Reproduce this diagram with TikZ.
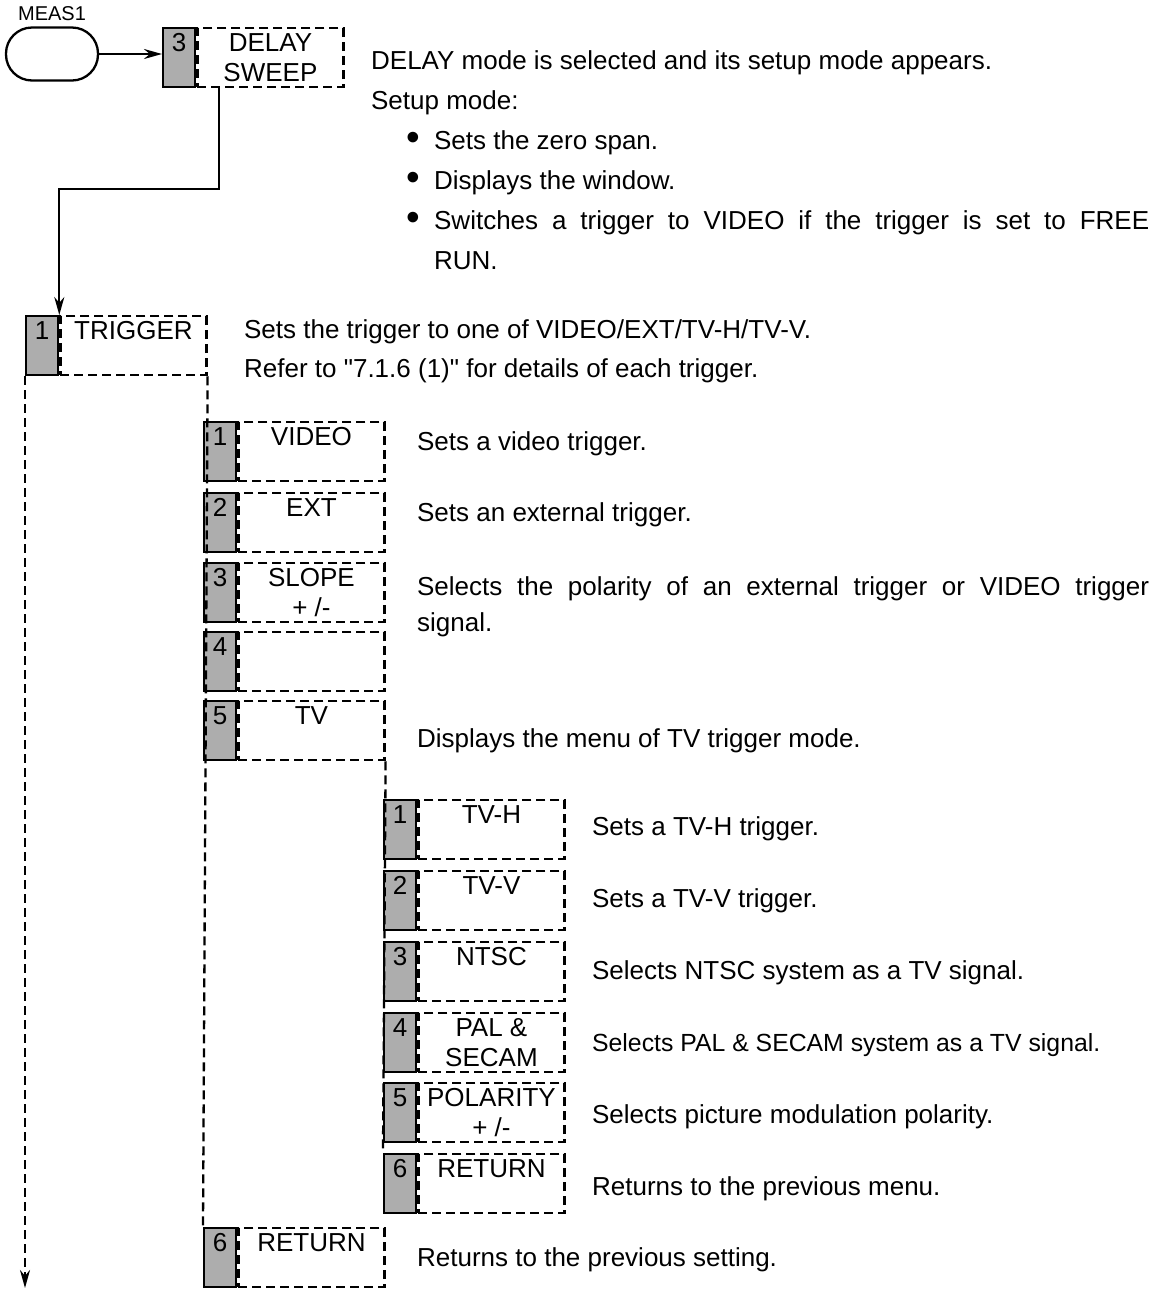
\documentclass[tikz,border=0pt]{standalone}
\usepackage{fontspec}
\usepackage{graphicx}
\setmainfont{Liberation Sans}
\newfontfamily\quotefont{Liberation Sans}
\usetikzlibrary{arrows.meta, positioning}

\newcommand\keylines[2]{\begin{tabular}[t]{@{}c@{}}#1\\#2\end{tabular}}
\newcommand\bigdot{\hspace*{17.5pt}\makebox[14pt][l]{\raisebox{-0.6pt}{\scalebox{1.5}{\textbullet}}}}

\begin{document}
\begin{tikzpicture}[
    x=0.5pt, y=-0.5pt,
    line width=1.15pt,
    every node/.style={font=\fontsize{13}{15}\selectfont},
    keynum/.style={draw, solid, fill=black!32, minimum width=16pt, minimum height=29.5pt, inner sep=0pt, text height=11.5pt, text depth=18pt, anchor=north west},
    keyname/.style={draw, dash pattern=on 4.5pt off 2.5pt, minimum width=73pt, minimum height=29.5pt, inner sep=0pt, text height=11.5pt, text depth=18pt, right=0pt of #1},
    desc/.style={inner sep=0pt, anchor=base west},
    para/.style={inner sep=0pt, anchor=north west, align=left},
    link/.style={dash pattern=on 4.5pt off 2.5pt},
    arrow/.style={-{Stealth[length=9pt, width=5pt]}}
]
\useasboundingbox (0,0) rectangle (1161,1292);

% MEAS1 key and DELAY SWEEP
\node[draw, rounded corners=13pt, minimum width=46pt, minimum height=26.5pt, inner sep=0pt,
      label={[font=\fontsize{10}{12}\selectfont, label distance=-1pt]above:MEAS1}] (meas) at (52,54) {};
\node[keynum] (delaynum) at (162,27) {3};
\node[keyname=delaynum] (delay) {\keylines{DELAY}{SWEEP}};

\node[para, font=\fontsize{13}{20}\selectfont] (delaydesc) at (370,49.4) {DELAY mode is selected and its setup mode appears.\\
Setup mode:\\
\bigdot Sets the zero span.\\
\bigdot Displays the window.\\
\bigdot\makebox[357.5pt][s]{Switches a trigger to VIDEO if the trigger is set to FREE}\\
\hspace*{31.5pt}RUN.};

% TRIGGER
\node[keynum] (trignum) at (25,315) {1};
\node[keyname=trignum] (trig) {TRIGGER};
\node[para, font=\fontsize{13}{19.5}\selectfont] (trigdesc) at (243,318.4) {Sets the trigger to one of VIDEO/EXT/TV-H/TV-V.\\
Refer to {\quotefont"}7.1.6 (1){\quotefont"} for details of each trigger.};

% trigger menu
\node[keynum] (videonum) at (203,421) {1};
\node[keyname=videonum] (video) {VIDEO};
\node[keynum] (extnum) at (203,492) {2};
\node[keyname=extnum] (ext) {EXT};
\node[keynum] (slopenum) at (203,562) {3};
\node[keyname=slopenum] (slope) {\keylines{SLOPE}{+ /-}};
\node[keynum] (blanknum) at (203,631) {4};
\node[keyname=blanknum] (blank) {};
\node[keynum] (tvnum) at (203,700) {5};
\node[keyname=tvnum] (tv) {TV};
\node[keynum] (retnum) at (203,1227) {6};
\node[keyname=retnum] (ret) {RETURN};

\node[desc] (videodesc) at (416,450) {Sets a video trigger.};
\node[desc] (extdesc) at (416,521) {Sets an external trigger.};
\node[para, font=\fontsize{13}{18}\selectfont] (slopedesc) at (416,575.4) {\makebox[366pt][s]{Selects the polarity of an external trigger or VIDEO trigger}\\
signal.};
\node[desc] (tvdesc) at (416,747) {Displays the menu of TV trigger mode.};
\node[desc] (retdesc) at (416,1266) {Returns to the previous setting.};

% TV trigger menu
\node[keynum] (tvhnum) at (383,799) {1};
\node[keyname=tvhnum] (tvh) {TV-H};
\node[keynum] (tvvnum) at (383,870) {2};
\node[keyname=tvvnum] (tvv) {TV-V};
\node[keynum] (ntscnum) at (383,941) {3};
\node[keyname=ntscnum] (ntsc) {NTSC};
\node[keynum] (palnum) at (383,1012) {4};
\node[keyname=palnum] (pal) {\keylines{PAL \&}{SECAM}};
\node[keynum] (polnum) at (383,1082) {5};
\node[keyname=polnum] (pol) {\keylines{POLARITY}{+ /-}};
\node[keynum] (backnum) at (383,1153) {6};
\node[keyname=backnum] (back) {RETURN};

\node[desc] (tvhdesc) at (591,835) {Sets a TV-H trigger.};
\node[desc] (tvvdesc) at (591,907) {Sets a TV-V trigger.};
\node[desc] (ntscdesc) at (591,979) {Selects NTSC system as a TV signal.};
\node[desc, font=\fontsize{12.4}{14}\selectfont] (paldesc) at (591,1051) {Selects PAL \& SECAM system as a TV signal.};
\node[desc] (poldesc) at (591,1123) {Selects picture modulation polarity.};
\node[desc] (backdesc) at (591,1195) {Returns to the previous menu.};

% connectors
\coordinate (trigend) at (25,1288);
\draw[arrow] (meas) -- (meas -| delaynum.west);
\draw[arrow] ([xshift=11.5pt]delay.south west) -- ++(0,101) -| (trignum.north east);
\draw[arrow, link] (trignum.south west) -- (trigend);
\draw[link] (trig.south east) -- (retnum.north west);
\draw[link] (tv.south east) -- (backnum.north west);
\end{tikzpicture}
\end{document}
